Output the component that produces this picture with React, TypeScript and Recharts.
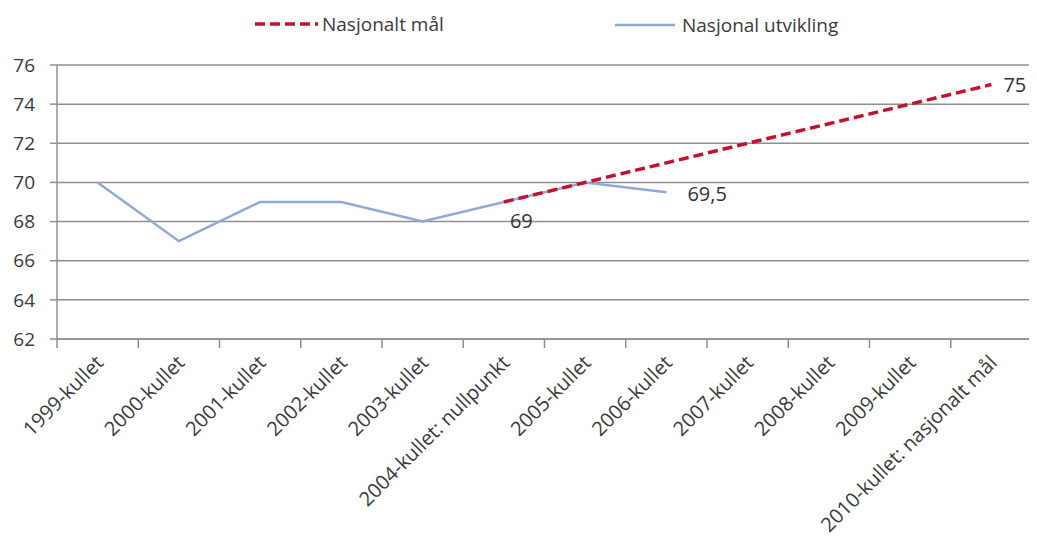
import React from "react";
import { LineChart, Line, XAxis, YAxis, CartesianGrid } from "recharts";

const categories = [
  "1999-kullet",
  "2000-kullet",
  "2001-kullet",
  "2002-kullet",
  "2003-kullet",
  "2004-kullet: nullpunkt",
  "2005-kullet",
  "2006-kullet",
  "2007-kullet",
  "2008-kullet",
  "2009-kullet",
  "2010-kullet: nasjonalt mål",
];

const nasjonalUtvikling: (number | null)[] = [70, 67, 69, 69, 68, 69, 70, 69.5, null, null, null, null];
const nasjonaltMaal: (number | null)[] = [null, null, null, null, null, 69, 70, 71, 72, 73, 74, 75];

const utviklingLabels = ["", "", "", "", "", "69", "", "69,5", "", "", "", ""];
const maalLabels = ["", "", "", "", "", "", "", "", "", "", "", "75"];

const yTicks = [62, 64, 66, 68, 70, 72, 74, 76];

const seriesNames = { maal: "Nasjonalt mål", utvikling: "Nasjonal utvikling" };

const data = categories.map((c, i) => ({
  name: c,
  utvikling: nasjonalUtvikling[i],
  maal: nasjonaltMaal[i],
}));

const FONT = "'Open Sans', sans-serif";
const GRID = "#8f8f8f";
const TEXT = "#3a3a3a";
const RED = "#C8102E";
const BLUE = "#8EAADB";

// label placement offsets (style only)
const utvPlace: Record<number, [number, number]> = { 5: [6, 18], 7: [21, 1] };
const maalPlace: Record<number, [number, number]> = { 11: [12, 0] };

const makeLabel = (texts: string[], place: Record<number, [number, number]>) => (props: any) => {
  const { x, y, index } = props;
  const t = texts[index];
  if (!t || x == null || y == null) return null;
  const [dx, dy] = place[index] || [10, 0];
  return (
    <text
      key={"l" + index}
      x={x + dx}
      y={y + dy}
      fontFamily={FONT}
      fontSize={20}
      fill="#333"
      textAnchor="start"
      dominantBaseline="central"
    >
      {t}
    </text>
  );
};

const XTick = (props: any) => {
  const { x, y, payload, index, visibleTicksCount } = props;
  const off = payload && payload.offset ? payload.offset : 40.6;
  const isLast = index === (visibleTicksCount ?? categories.length) - 1;
  const ax = x + 7;
  const ay = y + 25;
  return (
    <g>
      <line x1={x - off} y1={y} x2={x - off} y2={y + 9} stroke={GRID} strokeWidth={1.5} />
      {isLast && <line x1={x + off} y1={y} x2={x + off} y2={y + 9} stroke={GRID} strokeWidth={1.5} />}
      <text
        x={ax}
        y={ay}
        transform={`rotate(-45 ${ax} ${ay})`}
        textAnchor="end"
        fontFamily={FONT}
        fontSize={20}
        fill={TEXT}
      >
        {payload.value}
      </text>
    </g>
  );
};

export default function App() {
  return (
    <div style={{ position: "relative", width: 1029, height: 539, background: "#fff" }}>
      <LineChart
        width={1029}
        height={539}
        data={data}
        margin={{ top: 57, right: 5, bottom: 8, left: 0 }}
      >
        <CartesianGrid vertical={false} stroke={GRID} strokeWidth={1.5} />
        <XAxis
          dataKey="name"
          scale="band"
          interval={0}
          height={200}
          tickLine={false}
          tickSize={0}
          tickMargin={0}
          axisLine={{ stroke: GRID, strokeWidth: 1.5 }}
          tick={<XTick />}
        />
        <YAxis
          domain={[62, 76]}
          ticks={yTicks}
          width={49}
          tickSize={7}
          tickMargin={15}
          axisLine={{ stroke: GRID, strokeWidth: 1.5 }}
          tickLine={{ stroke: GRID, strokeWidth: 1.5 }}
          tick={{ fontFamily: FONT, fontSize: 19, fill: TEXT }}
          allowDataOverflow
        />
        <Line
          type="linear"
          dataKey="utvikling"
          name={seriesNames.utvikling}
          stroke={BLUE}
          strokeWidth={2.5}
          dot={false}
          activeDot={false}
          isAnimationActive={false}
          label={makeLabel(utviklingLabels, utvPlace)}
        />
        <Line
          type="linear"
          dataKey="maal"
          name={seriesNames.maal}
          stroke={RED}
          strokeWidth={3.5}
          strokeDasharray="10 5"
          dot={false}
          activeDot={false}
          isAnimationActive={false}
          label={makeLabel(maalLabels, maalPlace)}
        />
      </LineChart>
      <svg
        width={1029}
        height={40}
        style={{ position: "absolute", left: 0, top: 0, pointerEvents: "none" }}
      >
        <line x1={247} y1={16} x2={310} y2={16} stroke={RED} strokeWidth={3.5} strokeDasharray="10 5" />
        <text x={314} y={16} dominantBaseline="central" fontFamily={FONT} fontSize={19} fill={TEXT}>
          {seriesNames.maal}
        </text>
        <line x1={607} y1={17} x2={667} y2={17} stroke={BLUE} strokeWidth={2.5} />
        <text x={674} y={17} dominantBaseline="central" fontFamily={FONT} fontSize={19} fill={TEXT}>
          {seriesNames.utvikling}
        </text>
      </svg>
    </div>
  );
}
